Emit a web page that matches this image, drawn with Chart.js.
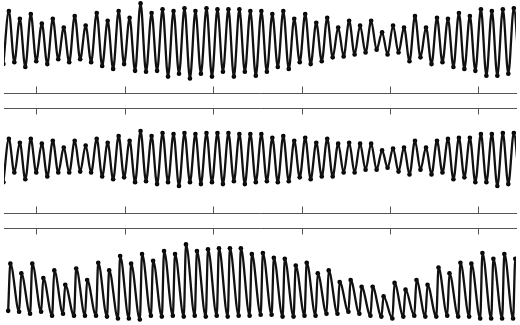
<!DOCTYPE html>
<html><head><meta charset="utf-8">
<script src="https://cdn.jsdelivr.net/npm/chart.js@4.4.1/dist/chart.umd.min.js"></script>
<style>
html,body{margin:0;padding:0;background:#fff;overflow:hidden;width:520px;height:325px;position:relative;}
canvas{position:absolute;left:0;}
</style></head><body>
<canvas id="c1" width="520" height="113" style="top:-16px"></canvas>
<canvas id="c2" width="520" height="113" style="top:104px"></canvas>
<canvas id="c3" width="520" height="113" style="top:224px"></canvas>
<script>
// x axis: time in hours
const tickHours = [100, 200, 300, 400, 500, 600];
const hourMin = 63.3, hourMax = 642.6;

// times of high and low water (panels 1 and 2)
const highHours = [68.8,81.2,93.6,106.1,118.5,130.9,143.3,155.7,168.2,180.6,193.0,205.4,217.8,230.3,242.7,255.1,267.5,279.9,292.4,304.8,317.2,329.6,342.0,354.5,366.9,379.3,391.7,404.1,416.6,429.0,441.4,453.8,466.2,478.7,491.1,503.5,515.9,528.3,540.8,553.2,565.6,578.0,590.4,602.9,615.3,627.7,640.1];
const lowHours = [62.6,75.0,87.4,99.8,112.3,124.7,137.1,149.5,161.9,174.4,186.8,199.2,211.6,224.0,236.5,248.9,261.3,273.7,286.1,298.6,311.0,323.4,335.8,348.2,360.7,373.1,385.5,397.9,410.3,422.8,435.2,447.6,460.0,472.4,484.9,497.3,509.7,522.1,534.5,547.0,559.4,571.8,584.2,596.6,609.1,621.5,633.9,646.3];
// times of high and low (panel 3)
const highHours3 = [70.5,82.9,95.3,107.8,120.2,132.6,145.0,157.4,169.9,182.3,194.7,207.1,219.5,232.0,244.4,256.8,269.2,281.6,294.1,306.5,318.9,331.3,343.7,356.2,368.6,381.0,393.4,405.8,418.3,430.7,443.1,455.5,467.9,480.4,492.8,505.2,517.6,530.0,542.5,554.9,567.3,579.7,592.1,604.6,617.0,629.4,641.8];
const lowHours3 = [68.0,80.4,92.8,105.3,117.7,130.1,142.5,154.9,167.4,179.8,192.2,204.6,217.0,229.5,241.9,254.3,266.7,279.1,291.6,304.0,316.4,328.8,341.2,353.7,366.1,378.5,390.9,403.3,415.8,428.2,440.6,453.0,465.4,477.9,490.3,502.7,515.1,527.5,540.0,552.4,564.8,577.2,589.6,602.1,614.5,626.9,639.3,651.7];

// panel 1 levels
const highs1 = [85,77,82,72,77,68,80,70,83,75,85,78, 93,83,87,85,88,85,88,87,87,87,85,85, 82,85,77,82,73,78,68,75,70,75,63, 70,68,80,68,78,77,83,80,87,85,87,88];
const lows1  = [30, 32,27,33,30,35,32,35,32,28,25,30,23, 22,23,17,20,15,20,17,22,17,22,18,22, 27,25,32,30,33,37,38,40,42,45,40, 42,33,37,30,32,27,25,23,18,18,20, 22];
// panel 2 levels
const highs2 = [77,73,77,72,75,68,75,70,77,73,80,75, 85,80,83,82,83,82,83,83,83,82,82,82, 78,80,75,78,73,77,72,73,72,72,65, 67,68,75,68,75,77,78,78,82,82,83,83];
const lows2  = [32, 42,35,42,38,42,42,43,42,38,35,37,32, 33,30,32,28,32,30,32,30,33,30,32,33, 32,33,37,35,38,38,42,42,45,45,47, 43,40,45,40,42,35,37,32,32,28,30, 32];
// panel 3 levels
const highs3 = [72,62,72,57,65,50,67,55,73,65,80,72, 82,75,85,82,92,85,87,88,88,88,82,83, 78,77,70,73,62,65,53,55,48,48,38, 52,45,55,50,68,62,73,72,83,77,82,77];
const lows3  = [23, 22,20,22,18,20,18,18,18,17,15,15,14, 18,17,18,17,18,17,18,17,18,18,19,19, 17,17,18,18,20,20,22,20,18,17,15, 17,18,17,17,18,17,17,15,15,15,15, 15];

function merge(lowT, lowV, highT, highV) {
  const pts = [];
  lowT.forEach((t, i) => pts.push({x: t, y: lowV[i]}));
  highT.forEach((t, i) => pts.push({x: t, y: highV[i]}));
  pts.sort((a, b) => a.x - b.x);
  return pts;
}

const innerTicks = {
  id: 'innerTicks',
  afterDraw(chart) {
    const ctx = chart.ctx, a = chart.chartArea;
    ctx.save();
    ctx.strokeStyle = '#555';
    ctx.lineWidth = 1;
    ['x', 'x2'].forEach(id => {
      const s = chart.scales[id];
      const isTop = s.position === 'top';
      const y0 = isTop ? a.top : a.bottom;
      s.ticks.forEach(t => {
        const px = Math.round(s.getPixelForValue(t.value)) + 0.5;
        ctx.beginPath();
        ctx.moveTo(px, y0);
        ctx.lineTo(px, isTop ? y0 + 6.5 : y0 - 6.5);
        ctx.stroke();
      });
    });
    ctx.restore();
  }
};

function xAxis(pos) {
  return {
    type: 'linear', position: pos, min: hourMin, max: hourMax,
    afterBuildTicks: s => { s.ticks = tickHours.map(v => ({value: v})); },
    ticks: {display: false},
    grid: {display: false, drawTicks: false, tickLength: 0},
    border: {display: true, color: '#555', width: 1}
  };
}

function makeChart(id, pts) {
  new Chart(document.getElementById(id), {
    type: 'line',
    data: {
      datasets: [
        {data: pts, borderColor: '#111', borderWidth: 2.3, pointRadius: 0,
         cubicInterpolationMode: 'monotone', fill: false, xAxisID: 'x', yAxisID: 'y'},
        {data: pts, showLine: false, pointRadius: 2.3, pointBackgroundColor: '#000',
         pointBorderWidth: 0, xAxisID: 'x', yAxisID: 'y'}
      ]
    },
    options: {
      responsive: false, animation: false, devicePixelRatio: 1,
      layout: {padding: {top: 2, bottom: 2, left: 0, right: 0}},
      plugins: {legend: {display: false}, tooltip: {enabled: false}},
      scales: {
        x: xAxis('bottom'),
        x2: xAxis('top'),
        y: {display: false, min: 0, max: 109}
      }
    },
    plugins: [innerTicks]
  });
}

makeChart('c1', merge(lowHours, lows1, highHours, highs1));
makeChart('c2', merge(lowHours, lows2, highHours, highs2));
makeChart('c3', merge(lowHours3, lows3, highHours3, highs3));
</script>
</body></html>
